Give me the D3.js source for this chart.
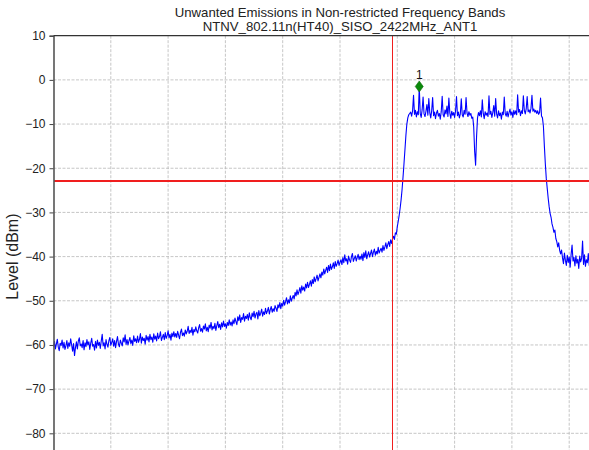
<!DOCTYPE html>
<html>
<head>
<meta charset="utf-8">
<script src="https://cdn.jsdelivr.net/npm/d3@7"></script>
<style>
  html, body { margin: 0; padding: 0; background: #fff; overflow: hidden; }
  svg { display: block; font-family: "Liberation Sans", Arial, sans-serif; }
</style>
</head>
<body>
<svg id="chart" width="589" height="450"></svg>
<script>
// Spectrum analyzer sweep, 0.25 MHz per point
const sweepStart = 2311.5;   // MHz
const sweepStep = 0.25;      // MHz
const levels = [
  // lower out-of-band floor
  -60.4, -59.2, -60.9, -59.8, -58.7, -60.5, -61.3, -59.6, -60.1, -58.9,
  -60.7, -59.4, -61.0, -60.2, -59.0, -60.8, -59.5, -60.3, -58.6, -60.0,
  -61.4, -59.7, -62.4, -60.6, -59.3, -60.9, -59.1, -58.4, -60.2, -59.8,
  -60.6, -59.0, -61.1, -59.5, -60.4, -58.8, -60.0, -59.3, -61.0, -59.6,
  -58.5, -60.3, -59.9, -61.2, -59.2, -60.7, -58.9, -60.1, -59.4, -60.8,
  -59.1, -57.6, -60.2, -59.5, -60.9, -58.8, -59.9, -60.5, -59.0, -58.3,
  -60.1, -59.4, -58.6, -60.3, -59.0, -60.6, -59.2, -58.1, -59.8, -60.4,
  -58.9, -59.6, -60.2, -58.4, -59.3, -57.7, -59.9, -58.8, -60.0, -59.1,
  -58.3, -59.7, -58.9, -60.1, -57.9, -59.2, -58.6, -59.5, -58.0, -59.4,
  -58.7, -57.4, -59.6, -58.2, -59.0, -58.5, -59.8, -57.8, -58.9, -58.1,
  -59.3, -57.6, -58.8, -58.2, -59.4, -57.5, -58.7, -58.0, -59.1, -57.3,
  -58.6, -58.1, -57.0, -59.0, -58.3, -57.6, -58.8, -57.2, -58.5, -57.9,
  -56.8, -58.4, -57.6, -58.9, -57.3, -58.1, -57.0, -58.2,
  // slow rise towards the band edge
  -57.4, -58.3, -56.9, -57.8, -58.6, -57.1, -56.4, -57.9, -57.3, -58.0,
  -56.6, -57.5, -56.9, -55.8, -57.4, -56.7, -57.2, -56.0, -57.8, -56.5,
  -57.0, -55.9, -56.8, -57.3, -56.1, -55.4, -56.9, -56.3, -57.1, -55.7,
  -56.4, -55.2, -56.8, -56.0, -57.0, -55.5, -56.2, -54.9, -56.6, -55.8,
  -56.3, -55.1, -56.7, -55.6, -54.7, -56.1, -55.3, -56.5, -55.0, -55.9,
  -54.6, -55.8, -55.2, -56.2, -54.9, -55.6, -54.3, -55.5,
  -54.8, -55.7, -54.3, -55.2, -53.9, -54.7, -55.4, -53.6, -54.5, -53.2,
  -54.9, -53.8, -54.2, -52.9, -54.6, -53.5, -54.0, -53.1, -54.4, -52.7,
  -53.8, -54.3, -52.8, -53.6, -52.4, -53.9, -53.0, -52.6, -54.1, -52.2,
  -53.4, -52.8, -51.9, -53.5, -52.5, -53.1, -51.7, -52.9, -52.3, -51.5,
  -53.0, -52.0, -51.3, -52.6, -51.8, -52.4, -51.1,
  -51.7, -52.4, -50.9, -51.6, -50.4, -51.8, -50.6, -51.2, -49.9, -51.0,
  -50.2, -49.3, -50.7, -49.8, -50.5, -48.9, -50.1, -49.4,
  -48.8, -49.6, -48.1, -48.9, -47.5, -48.6, -47.9, -47.0, -48.3, -46.6,
  -47.6, -46.9, -47.8, -46.2, -47.1, -45.8, -47.0, -46.3, -45.5, -46.7,
  -45.2, -46.1, -44.6, -45.7, -45.0, -44.2, -45.5, -44.7, -43.9,
  -44.8, -43.5, -44.2, -42.8, -43.9, -43.1, -42.4, -43.6, -42.0, -43.2,
  -41.7, -42.9, -42.3, -41.4, -42.7, -41.1, -42.2, -41.6, -40.8, -42.0,
  -41.3,
  -40.7, -41.8, -40.2, -41.4, -39.6, -41.0, -40.5, -41.7, -39.9, -40.8,
  -41.3, -40.0, -39.3, -41.1, -40.4, -39.8, -41.0, -40.2, -39.5, -40.7,
  -39.9,
  -40.6, -39.4, -40.9, -39.1, -40.2, -38.7, -40.5, -39.6, -38.9, -40.1,
  -39.3, -38.5, -40.0, -39.0, -38.3, -39.7, -38.8, -39.4, -37.9, -39.2,
  -38.6,
  -38.1, -39.0, -37.5, -38.6, -37.8, -36.9, -38.2, -37.3, -36.6, -37.7,
  -36.2, -37.0,
  // channel rising edge
  -36.0, -35.4, -36.1, -34.6, -34.9, -33.2, -32.0, -30.6, -29.0, -27.1,
  -24.8, -22.0, -19.0, -15.8, -12.6, -10.0, -8.6, -7.9, -7.6,
  // HT40 channel
  -7.3, -8.2, -7.0, -3.5, -7.8, -6.9, -8.4, -7.2, -7.9, -1.5,
  -7.6, -8.5, -6.8, -3.9, -7.7, -8.3, -7.1, -5.6, -8.0, -4.2,
  -7.4, -8.6, -7.0, -4.0, -8.1, -7.3, -8.8, -7.5, -6.9, -8.2,
  -7.6, -8.9, -7.2, -3.7, -7.9, -8.4, -6.8, -7.7, -5.9, -8.3,
  -4.1, -7.5, -8.7, -7.1, -8.0, -7.4, -8.5, -7.0, -3.8, -8.1,
  -7.3, -8.6, -7.7, -4.3, -7.9, -8.4, -6.9, -7.8, -4.0, -7.5,
  -8.3, -7.2, -8.0, -7.6, -8.7, -8.4, -10.6, -16.2, -19.3, -12.8,
  -8.6, -7.4, -8.1, -7.0, -8.4, -4.5, -7.6, -8.8, -7.2, -8.0,
  -7.5, -8.3, -3.6, -7.8, -7.1, -8.5, -7.4, -5.8, -8.2, -4.2,
  -7.7, -8.6, -7.0, -8.1, -7.5, -8.9, -7.3, -7.9, -3.9, -7.6,
  -8.2, -7.1, -8.4, -7.4, -6.6, -8.0, -7.2, -8.5, -6.9, -7.8,
  -7.0, -7.9, -3.4, -7.3, -6.7, -8.1, -7.0, -7.6, -3.6, -6.9,
  -7.7, -6.5, -3.8, -7.2, -6.8, -7.5, -6.4, -3.5, -7.1, -6.6,
  -7.3, -6.9, -7.6, -7.0, -7.8, -7.4, -4.1, -8.2, -8.6,
  // channel falling edge
  -10.5, -15.0, -19.0, -22.3, -24.6, -26.8, -28.7, -30.2, -31.1, -32.6,
  -33.4, -34.5, -34.0, -35.9, -36.6, -37.8, -36.9, -38.6, -39.4, -38.5,
  // upper out-of-band
  -40.3, -41.6, -39.2, -40.8, -42.0, -39.7, -41.3, -40.1, -42.4, -39.5,
  -37.4, -41.0, -40.2, -42.1, -39.8, -41.5, -40.6, -42.7, -39.9, -41.2,
  -40.4, -36.5, -41.8, -39.6, -42.2, -40.7, -41.4, -39.3, -42.0, -40.5,
  -41.1, -39.8, -42.3, -40.9, -41.6, -40.2
];
const freqs = levels.map((_, i) => sweepStart + i * sweepStep);

const freqDomain = [2311.5, 2461.5];
const gridFreqs = [2326.5, 2341.5, 2356.5, 2371.5, 2386.5, 2401.5, 2416.5, 2431.5, 2446.5];
const levelTicks = [10, 0, -10, -20, -30, -40, -50, -60, -70, -80];
const levelDomain = [-90, 10];
const limitLevel = -23;      // dBm
const bandEdge = 2400;       // MHz
const titleLines = [
  "Unwanted Emissions in Non-restricted Frequency Bands",
  "NTNV_802.11n(HT40)_SISO_2422MHz_ANT1"
];
const yLabel = "Level (dBm)";
const markerLabel = "1";

const plot = { left: 53.5, top: 35.7, right: 626.5, bottom: 477.5 };

const svg = d3.select("#chart");
const x = d3.scaleLinear().domain(freqDomain).range([plot.left, plot.right]);
const y = d3.scaleLinear().domain(levelDomain).range([plot.bottom, plot.top]);

svg.append("defs").append("clipPath").attr("id", "plotClip")
  .append("rect")
  .attr("x", plot.left).attr("y", plot.top)
  .attr("width", plot.right - plot.left).attr("height", plot.bottom - plot.top);

// grid
const grid = svg.append("g").attr("stroke", "#b8b8b8").attr("stroke-width", 0.8)
  .attr("stroke-dasharray", "3,1.5");
grid.selectAll("line.v").data(gridFreqs).join("line").attr("class", "v")
  .attr("x1", d => x(d)).attr("x2", d => x(d))
  .attr("y1", plot.top).attr("y2", plot.bottom);
grid.selectAll("line.h").data(levelTicks.slice(1)).join("line").attr("class", "h")
  .attr("x1", plot.left).attr("x2", plot.right)
  .attr("y1", d => y(d)).attr("y2", d => y(d));

// trace
const traceLine = d3.line().x((d, i) => x(freqs[i])).y(d => y(d));
svg.append("path")
  .datum(levels)
  .attr("clip-path", "url(#plotClip)")
  .attr("fill", "none")
  .attr("stroke", "#0000ff")
  .attr("stroke-width", 1.1)
  .attr("stroke-linejoin", "round")
  .attr("d", traceLine);

// limit line and band edge
const refLines = svg.append("g")
  .style("stroke", "rgb(240,30,30)")
  .attr("shape-rendering", "crispEdges");
refLines.append("line")
  .style("stroke-width", "2px")
  .attr("x1", plot.left).attr("x2", plot.right)
  .attr("y1", Math.round(y(limitLevel))).attr("y2", Math.round(y(limitLevel)));
refLines.append("line")
  .style("stroke-width", "1px")
  .attr("x1", Math.round(x(bandEdge)) + 0.5).attr("x2", Math.round(x(bandEdge)) + 0.5)
  .attr("y1", plot.top).attr("y2", plot.bottom);

// peak marker
const peakIdx = d3.maxIndex(levels);
const mx = x(freqs[peakIdx]), my = y(levels[peakIdx]);
svg.append("path")
  .attr("d", `M${mx},${my - 5.5}L${mx + 4},${my}L${mx},${my + 5.5}L${mx - 4},${my}Z`)
  .attr("fill", "#0a8a0a").attr("stroke", "#0a6a0a").attr("stroke-width", 0.6);
svg.append("text")
  .attr("x", mx).attr("y", my - 8)
  .attr("text-anchor", "middle")
  .attr("font-size", 12).attr("fill", "#111")
  .text(markerLabel);

// axes frame
const yAxis = d3.axisLeft(y).tickValues(levelTicks).tickSize(4).tickPadding(4)
  .tickFormat(d => d < 0 ? "\u2212" + Math.abs(d) : String(d));
const gy = svg.append("g").attr("transform", `translate(${plot.left},0)`).call(yAxis);
gy.select(".domain").attr("stroke", "#555").attr("stroke-width", 1.6);
gy.selectAll(".tick line").attr("stroke", "#444").attr("stroke-width", 1);
gy.selectAll(".tick text").attr("font-size", 12).attr("fill", "#222")
  .attr("font-family", "'Liberation Sans', Arial, sans-serif");

svg.append("line")
  .attr("x1", plot.left).attr("x2", plot.right)
  .attr("y1", plot.top).attr("y2", plot.top)
  .attr("stroke", "#333").attr("stroke-width", 1.2);

// titles
svg.append("g").selectAll("text").data(titleLines).join("text")
  .attr("x", (plot.left + plot.right) / 2)
  .attr("y", (d, i) => 16.5 + i * 14)
  .attr("text-anchor", "middle")
  .attr("font-size", 13.2).attr("fill", "#222")
  .text(d => d);

svg.append("text")
  .attr("transform", `translate(12,${(plot.top + plot.bottom) / 2}) rotate(-90)`)
  .attr("text-anchor", "middle")
  .attr("dy", "0.35em")
  .attr("font-size", 16).attr("fill", "#222")
  .text(yLabel);
</script>
</body>
</html>
